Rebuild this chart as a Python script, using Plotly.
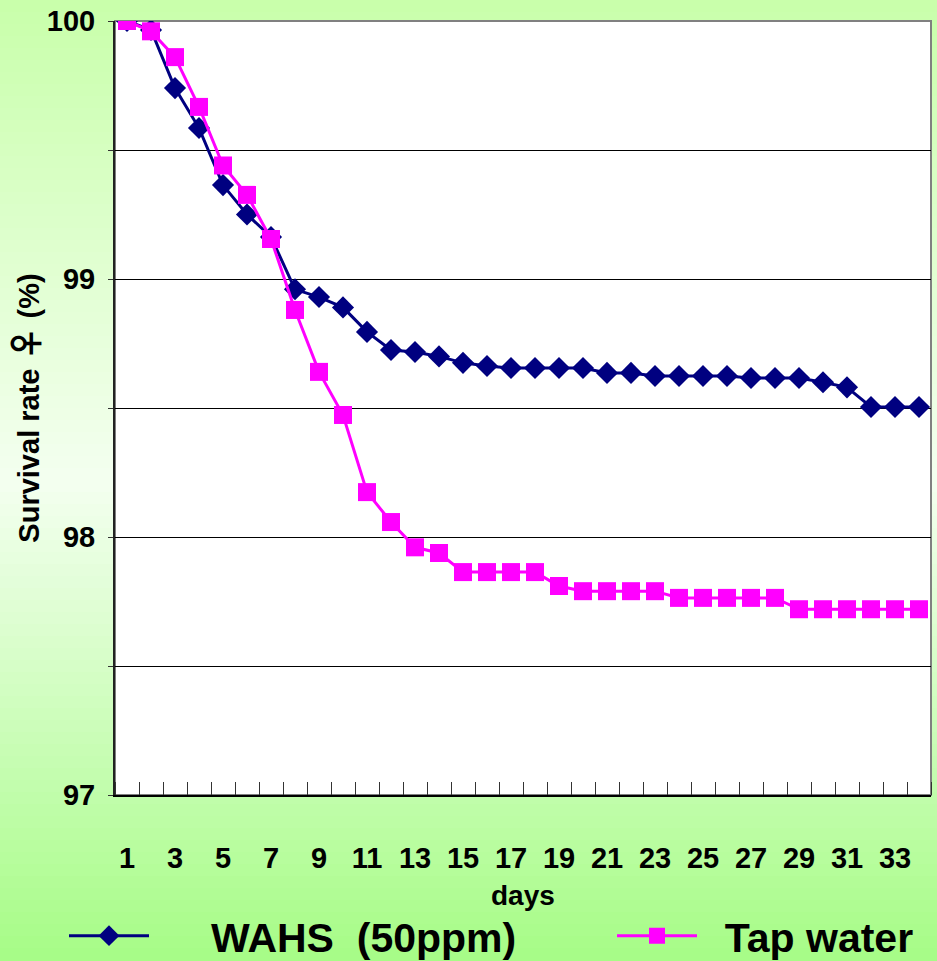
import plotly.graph_objects as go

days = list(range(1, 35))
wahs = [100.0, 99.965, 99.74, 99.585, 99.364, 99.25, 99.163, 98.96, 98.93, 98.89,
        98.795, 98.725, 98.717, 98.70, 98.675, 98.663, 98.655, 98.655, 98.655, 98.655,
        98.636, 98.636, 98.624, 98.624, 98.624, 98.624, 98.616, 98.616, 98.616, 98.60,
        98.58, 98.504, 98.504, 98.504]
tap = [100.0, 99.96, 99.86, 99.667, 99.44, 99.326, 99.155, 98.88, 98.64, 98.473,
       98.174, 98.058, 97.96, 97.938, 97.864, 97.864, 97.864, 97.864, 97.81, 97.79,
       97.79, 97.79, 97.79, 97.764, 97.764, 97.764, 97.764, 97.764, 97.72, 97.72,
       97.72, 97.72, 97.72, 97.72]
x_tick_vals = list(range(1, 34, 2))
y_tick_vals = [97, 97.5, 98, 98.5, 99, 99.5, 100]
y_tick_text = ["97", "", "98", "", "99", "", "100"]
series_names = ["\u00a0\u00a0\u00a0\u00a0\u00a0WAHS\u00a0\u00a0(50ppm)", "\u00a0\u00a0Tap water"]
x_title = "days"

W, H = 937, 961
L, R, T, B = 115, 6, 21, 166
pw, ph = W - L - R, H - T - B

def hex2rgb(h):
    h = h.lstrip("#")
    return tuple(int(h[i:i + 2], 16) for i in (0, 2, 4))

stops = [(0, hex2rgb("#c8ffaa")), (480, hex2rgb("#f4fff0")), (961, hex2rgb("#a6fc86"))]

def col_at(p):
    for (p0, c0), (p1, c1) in zip(stops[:-1], stops[1:]):
        if p0 <= p <= p1:
            t = (p - p0) / (p1 - p0)
            c = [round(a + (b - a) * t) for a, b in zip(c0, c1)]
            return "rgb(%d,%d,%d)" % tuple(c)
    return "rgb(%d,%d,%d)" % stops[-1][1]

shapes = []
step = 12
for p in range(0, H, step):
    y1 = (H - B - p) / ph
    y0 = (H - B - (p + step + 1)) / ph
    shapes.append(dict(type="rect", xref="paper", yref="paper", x0=-L / pw, x1=(W - L) / pw,
                       y0=y0, y1=y1, fillcolor=col_at(p + step / 2), line_width=0, layer="below"))
shapes.append(dict(type="rect", xref="paper", yref="paper", x0=0, x1=1, y0=0, y1=1,
                   fillcolor="white", line=dict(color="#808080", width=2), layer="below"))

fig = go.Figure()
fig.add_trace(go.Scatter(x=days, y=wahs, name=series_names[0], mode="lines+markers",
                         line=dict(color="#000080", width=3), legend="legend",
                         marker=dict(symbol="diamond", size=17, color="#000080")))
fig.add_trace(go.Scatter(x=days, y=tap, name=series_names[1], mode="lines+markers",
                         line=dict(color="#ff00ff", width=3), legend="legend2",
                         marker=dict(symbol="square", size=18, color="#ff00ff")))

font_family = "Liberation Sans, Arial, sans-serif"
leg_common = dict(orientation="h", xref="container", yref="container", y=0.026,
                  xanchor="left", yanchor="middle", itemwidth=80,
                  font=dict(size=41, weight="bold", family=font_family),
                  bgcolor="rgba(0,0,0,0)")
fig.update_layout(
    width=W, height=H,
    margin=dict(l=L, r=R, t=T, b=B, autoexpand=False),
    paper_bgcolor="#c8ffaa",
    plot_bgcolor="rgba(0,0,0,0)",
    shapes=shapes,
    font=dict(family=font_family, color="black"),
    showlegend=True,
    legend=dict(x=64 / W, **leg_common),
    legend2=dict(x=612 / W, **leg_common),
    annotations=[dict(text=x_title, xref="paper", yref="paper", x=0.5, y=(795 - 895) / ph,
                      xanchor="center", yanchor="middle", showarrow=False,
                      font=dict(size=28, weight="bold"))],
    xaxis=dict(range=[0.5, 34.5], tickmode="array", tickvals=x_tick_vals,
               ticktext=[str(v) for v in x_tick_vals], ticks="", showgrid=False,
               showline=True, linecolor="black", linewidth=2, zeroline=False,
               ticklabelstandoff=36,
               tickfont=dict(size=29, weight="bold"),
               minor=dict(tickmode="linear", tick0=0.5, dtick=1, ticks="inside", ticklen=13,
                          tickcolor="#333", tickwidth=1, showgrid=False)),
    yaxis=dict(range=[97, 100], tickmode="array", tickvals=y_tick_vals, ticktext=y_tick_text,
               showgrid=True, gridcolor="black", gridwidth=1, zeroline=False,
               showline=True, linecolor="#222", linewidth=2,
               ticks="outside", ticklen=5, tickcolor="#333",
               ticklabelstandoff=7,
               tickfont=dict(size=29, weight="bold"),
               title=dict(text="Survival rate <span style='font-family:Noto Sans CJK SC;font-size:34px;font-weight:bold'>\u2640</span> (%)",
                          font=dict(size=29, weight="bold"), standoff=1)),
)
fig.write_html("out.html", config={"displayModeBar": False},
               post_script="document.body.style.margin='0';")
